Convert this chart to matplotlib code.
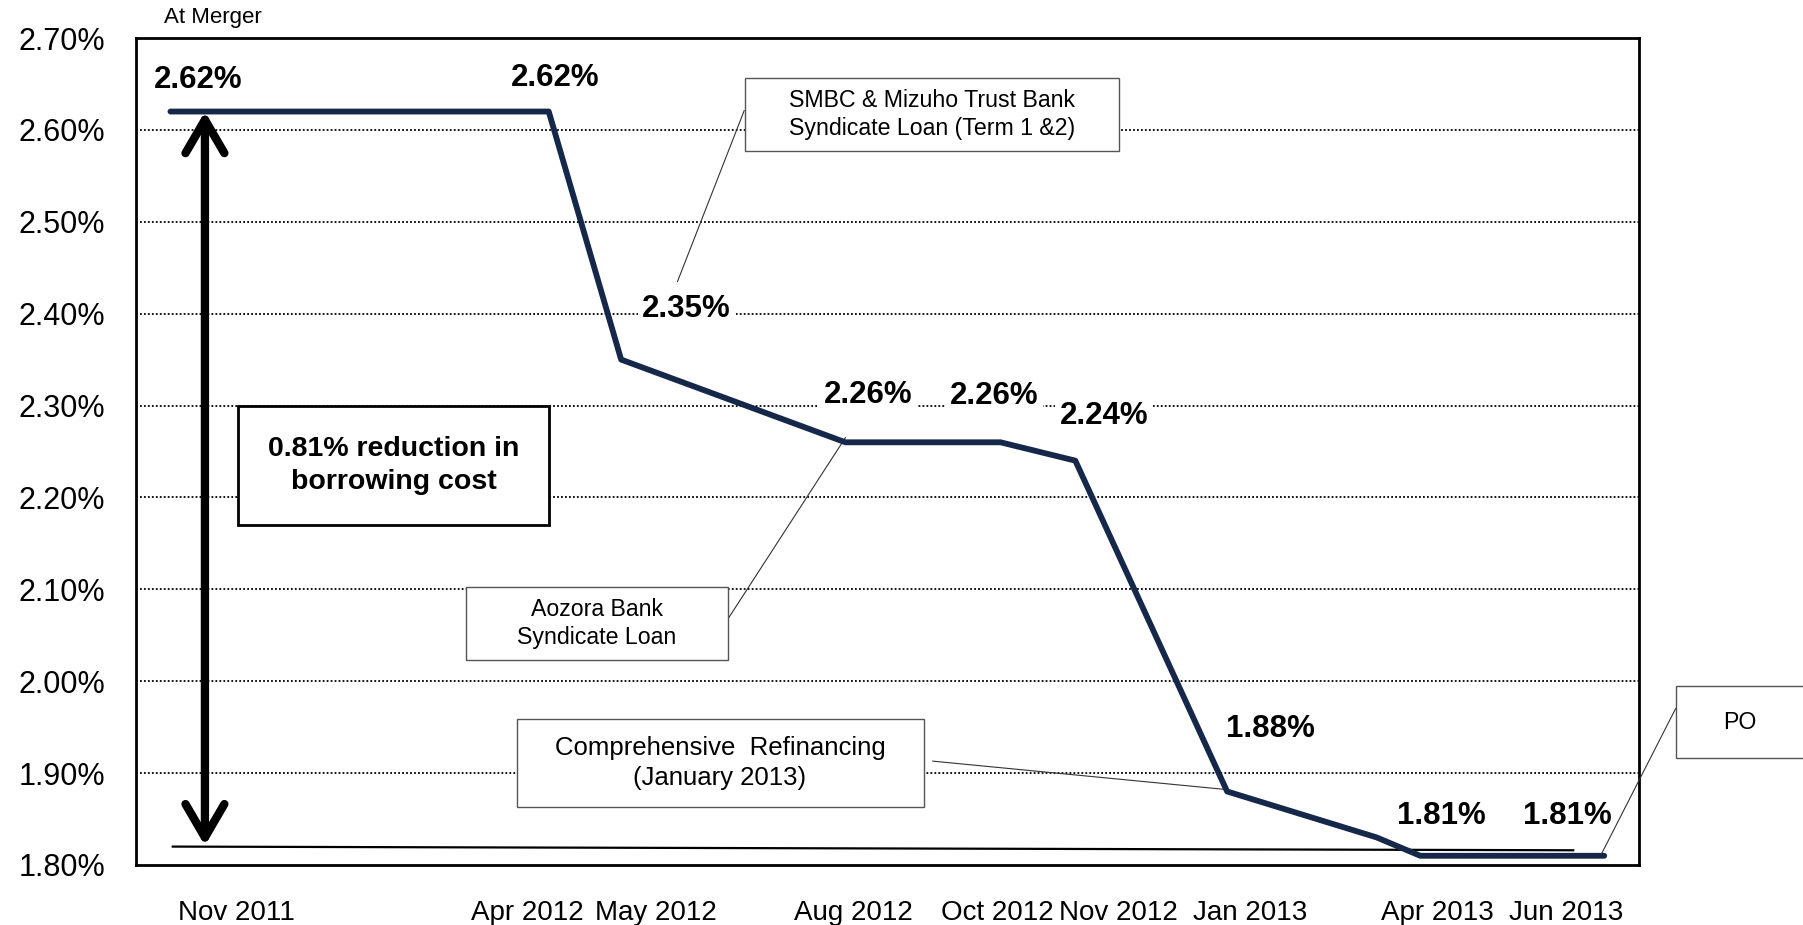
import numpy as np
import matplotlib
matplotlib.use("Agg")
import matplotlib.pyplot as plt
from matplotlib.patches import Rectangle

plt.rcParams['font.family'] = ['Liberation Sans', 'DejaVu Sans']

# Borrowing cost (%) over time
point_x = [0.30, 3.59, 4.22, 6.17, 7.52, 8.17, 9.49, 10.79, 11.17, 12.77]
rates = [2.62, 2.62, 2.35, 2.26, 2.26, 2.24, 1.88, 1.83, 1.81, 1.81]

# which points get a value label, and where the label sits
labelled = [0, 1, 2, 3, 4, 5, 6, 8, 9]
label_x = [0.54, 3.65, 4.79, 6.37, 7.46, 8.42, 9.87, 11.35, 12.45]
label_y = [2.654, 2.656, 2.405, 2.312, 2.310, 2.289, 1.948, 1.853, 1.853]

months = ["Nov 2011", "Apr 2012", "May 2012", "Aug 2012", "Oct 2012",
          "Nov 2012", "Jan 2013", "Apr 2013", "Jun 2013"]
month_x = [0.87, 3.40, 4.52, 6.24, 7.49, 8.54, 9.69, 11.32, 12.44]

y_ticks = [1.80, 1.90, 2.00, 2.10, 2.20, 2.30, 2.40, 2.50, 2.60, 2.70]

navy = '#15284a'
box_edge = '#555555'

fig = plt.figure(figsize=(18.03, 9.25), dpi=100)
ax = fig.add_axes([0.0754, 0.0649, 0.8335, 0.8940])
ax.set_xlim(0, 13.07)
ax.set_ylim(1.80, 2.70)

# frame and grid
for s in ax.spines.values():
    s.set_linewidth(2.0)
    s.set_color('black')
ax.set_yticks(y_ticks)
ax.set_yticklabels(['%.2f%%' % v for v in y_ticks], fontsize=22)
ax.set_xticks(month_x)
ax.set_xticklabels(months, fontsize=20)
ax.tick_params(axis='both', length=0)
ax.tick_params(axis='y', pad=22)
ax.tick_params(axis='x', pad=25)
for v in y_ticks[1:-1]:
    ax.axhline(v, color='black', lw=1.3, ls=(0, (1, 1.2)), zorder=1)

# thin baseline under the arrow
ax.plot([0.32, 12.50], [1.820, 1.816], color='black', lw=1.6, zorder=2)

# main series
ax.plot(point_x, rates, color=navy, lw=4.2, solid_capstyle='round',
        solid_joinstyle='round', zorder=4)

for i, lx, ly in zip(labelled, label_x, label_y):
    ax.text(lx, ly, '%.2f%%' % rates[i], fontsize=22.5, fontweight='bold',
            ha='center', va='center', zorder=5,
            bbox=dict(boxstyle='square,pad=0.15', fc='white', ec='none'))

# double-headed arrow showing the reduction
ax.annotate('', xy=(0.60, 1.821), xytext=(0.60, 2.62),
            arrowprops=dict(arrowstyle='<->,head_length=1.2,head_width=0.7',
                            mutation_scale=20, color='black', lw=6.0,
                            capstyle='round', shrinkA=0, shrinkB=0),
            zorder=3)

ax.add_patch(Rectangle((0.89, 2.170), 2.70, 0.130, fc='white', ec='black',
                       lw=2.0, zorder=5))
ax.text(2.24, 2.235, '0.81% reduction in\nborrowing cost', fontsize=20.5,
        fontweight='bold', ha='center', va='center', linespacing=1.35, zorder=6)

ax.text(0.67, 2.722, 'At Merger', fontsize=16, ha='center', va='center',
        clip_on=False)


def callout(x0, y0, x1, y1, text, leader, size=16.7, clip=True, tx=None,
            lz=3):
    ax.add_patch(Rectangle((x0, y0), x1 - x0, y1 - y0, fc='white',
                           ec=box_edge, lw=1.0, zorder=5, clip_on=clip))
    if tx is None:
        tx = (x0 + x1) / 2
    ax.text(tx, (y0 + y1) / 2, text, fontsize=size, ha='center',
            va='center', linespacing=1.3, zorder=6, clip_on=clip)
    (ax_, ay_), (bx_, by_) = leader
    ax.plot([ax_, bx_], [ay_, by_], color='#333333', lw=0.8, zorder=lz,
            clip_on=clip)


callout(5.30, 2.577, 8.55, 2.656,
        'SMBC & Mizuho Trust Bank\nSyndicate Loan (Term 1 &2)',
        ((5.29, 2.621), (4.71, 2.435)))
callout(2.87, 2.023, 5.15, 2.102, 'Aozora Bank\nSyndicate Loan',
        ((5.15, 2.068), (6.17, 2.265)))
callout(3.31, 1.863, 6.85, 1.959,
        'Comprehensive  Refinancing\n(January 2013)',
        ((6.93, 1.913), (9.49, 1.882)), size=18.5)
callout(13.39, 1.916, 14.80, 1.995, 'PO',
        ((13.39, 1.970), (12.75, 1.813)), clip=False, tx=13.95, lz=7)

fig.savefig('out.png', dpi=100)
